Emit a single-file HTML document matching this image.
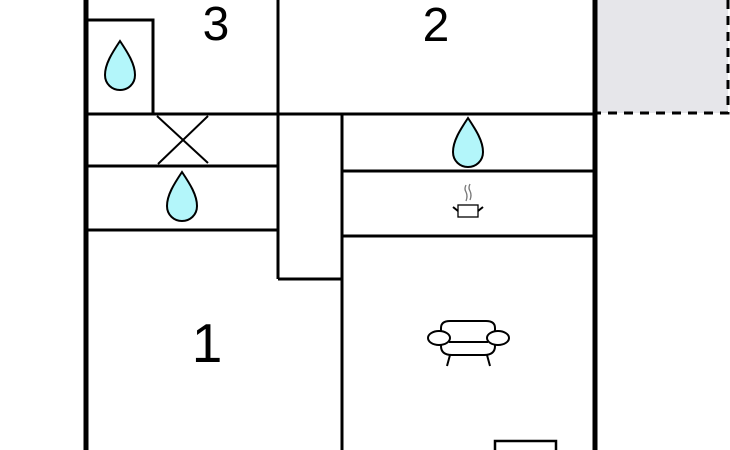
<!DOCTYPE html>
<html><head><style>
html,body{margin:0;padding:0;background:#fff;}
svg{display:block;}
</style></head><body>
<svg width="730" height="450" viewBox="0 0 730 450" xmlns="http://www.w3.org/2000/svg">
<rect x="597" y="0" width="131" height="113" fill="#e6e6ea"/>
<path d="M728 0 V113 H597" fill="none" stroke="#000" stroke-width="3" stroke-dasharray="9,7"/>
<g stroke="#000" fill="none">
<line x1="86" y1="0" x2="86" y2="450" stroke-width="5"/>
<line x1="595" y1="0" x2="595" y2="450" stroke-width="5"/>
<line x1="86" y1="114" x2="597" y2="114" stroke-width="3"/>
<line x1="278" y1="0" x2="278" y2="279" stroke-width="3"/>
<path d="M86 20 H153 V114" stroke-width="3"/>
<line x1="86" y1="166" x2="278" y2="166" stroke-width="3"/>
<line x1="86" y1="230" x2="278" y2="230" stroke-width="3"/>
<line x1="278" y1="279" x2="342" y2="279" stroke-width="3"/>
<line x1="342" y1="114" x2="342" y2="450" stroke-width="3"/>
<line x1="342" y1="171" x2="595" y2="171" stroke-width="3"/>
<line x1="342" y1="236" x2="595" y2="236" stroke-width="3"/>
<path d="M495 450 V441 H556 V450" stroke-width="2.5"/>
<line x1="157" y1="116" x2="208" y2="163" stroke-width="2"/>
<line x1="208" y1="116" x2="158" y2="164" stroke-width="2"/>
</g>
<g fill="#b3f6fa" stroke="#000" stroke-width="2">
<path d="M120 41 C112 53 105 64 105 75 C105 84 112 90 120 90 C128 90 135 84 135 75 C135 64 128 53 120 41 Z"/>
<path d="M182 172 C174 184 167 195 167 206 C167 215 174 221 182 221 C190 221 197 215 197 206 C197 195 190 184 182 172 Z"/>
<path d="M468 118 C460 130 453 141 453 152 C453 161 460 167 468 167 C476 167 483 161 483 152 C483 141 476 130 468 118 Z"/>
</g>
<g stroke="#000" fill="none" stroke-width="1.3">
<rect x="458" y="205" width="20" height="12"/>
<line x1="453" y1="207" x2="458" y2="211" stroke-width="2"/>
<line x1="483" y1="207" x2="478" y2="211" stroke-width="2"/>
<path d="M466 185 q-2 4 0 7 q2 4 0 9" stroke="#777"/>
<path d="M470 184 q-2 4 0 7 q2 4 0 9" stroke="#777"/>
</g>
<g stroke="#000" fill="none" stroke-width="2">
<path d="M441 336 V328 Q441 321 450 321 H486 Q495 321 495 328 V336"/>
<path d="M441 340 V346 Q441 355 452 355 H484 Q495 355 495 346 V340"/>
<ellipse cx="439" cy="338" rx="11" ry="7" fill="#fff"/>
<ellipse cx="498" cy="338" rx="11" ry="7" fill="#fff"/>
<line x1="449" y1="342" x2="488" y2="342"/>
<line x1="450" y1="355" x2="447" y2="366"/>
<line x1="487" y1="355" x2="490" y2="366"/>
</g>
<g font-family="Liberation Sans, sans-serif" fill="#000" text-anchor="middle">
<text x="216" y="40" font-size="48">3</text>
<text x="436" y="41" font-size="48">2</text>
<text x="207" y="362" font-size="55">1</text>
</g>
</svg>
</body></html>
